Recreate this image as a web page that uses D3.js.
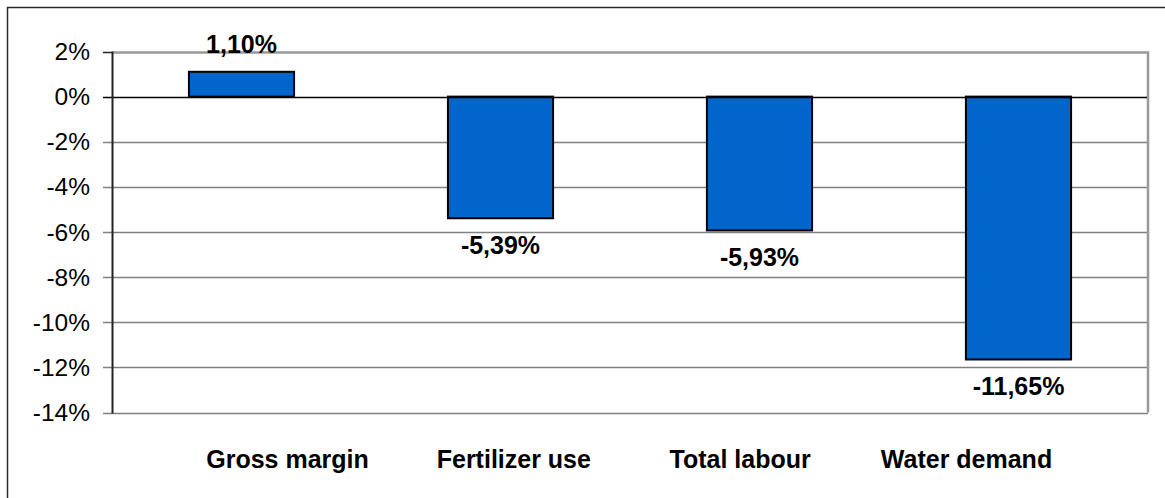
<!DOCTYPE html>
<html>
<head>
<meta charset="utf-8">
<script src="https://cdn.jsdelivr.net/npm/d3@7"></script>
<style>
  html, body { margin: 0; padding: 0; background: #fff; }
  svg { display: block; font-family: "Liberation Sans", Arial, sans-serif; }
</style>
</head>
<body>
<script>
// chart data
const categories = ["Gross margin", "Fertilizer use", "Total labour", "Water demand"];
const values = [1.10, -5.39, -5.93, -11.65];
const tickValues = [2, 0, -2, -4, -6, -8, -10, -12, -14];

const width = 1165, height = 498;
const plot = { left: 112, right: 1148, top: 51.5, bottom: 412.5 };

// comma decimals, plain hyphen for minus
const fmt = v => d3.format(".2f")(v).replace(".", ",").replace("\u2212", "-") + "%";

const svg = d3.select("body").append("svg")
    .attr("width", width)
    .attr("height", height);

// outer frame (runs off the right and bottom edge in the source)
svg.append("rect")
    .attr("x", 7.5).attr("y", 7.5)
    .attr("width", width + 20).attr("height", height + 20)
    .attr("fill", "none")
    .attr("stroke", "#2a2a2a")
    .attr("stroke-width", 1.5);

const x = d3.scaleBand()
    .domain(categories)
    .range([plot.left, plot.right])
    .paddingInner(0.594)
    .paddingOuter(0.297);

const y = d3.scaleLinear()
    .domain([-14, 2])
    .range([plot.bottom, plot.top]);

// category labels sit on their own spacing, a bit off the bar centres
const xLabel = d3.scalePoint()
    .domain(categories)
    .range([287.5, 966.5]);

// gridlines
svg.append("g")
    .selectAll("line")
    .data(tickValues.filter(d => d !== 0 && d !== 2))
    .join("line")
      .attr("x1", plot.left - 9).attr("x2", plot.right)
      .attr("y1", d => Math.round(y(d)) + 0.5)
      .attr("y2", d => Math.round(y(d)) + 0.5)
      .attr("stroke", "#808080")
      .attr("stroke-width", 1.5);

// top / right edge of plot area
svg.append("path")
    .attr("d", `M${plot.left},${Math.round(y(2)) + 0.5}H${plot.right}V${plot.bottom}`)
    .attr("fill", "none")
    .attr("stroke", "#999")
    .attr("stroke-width", 2.5);

// tick at 2%
svg.append("line")
    .attr("x1", plot.left - 9).attr("x2", plot.left)
    .attr("y1", Math.round(y(2)) + 0.5).attr("y2", Math.round(y(2)) + 0.5)
    .attr("stroke", "#222").attr("stroke-width", 1.5);

// bars
svg.append("g")
    .selectAll("rect")
    .data(values)
    .join("rect")
      .attr("x", (d, i) => x(categories[i]))
      .attr("width", x.bandwidth())
      .attr("y", d => y(Math.max(0, d)))
      .attr("height", d => Math.abs(y(d) - y(0)))
      .attr("fill", "#0066cc")
      .attr("stroke", "#000")
      .attr("stroke-width", 2);

// zero line
svg.append("line")
    .attr("x1", plot.left - 9).attr("x2", plot.right - 1)
    .attr("y1", Math.round(y(0)) + 0.5).attr("y2", Math.round(y(0)) + 0.5)
    .attr("stroke", "#000")
    .attr("stroke-width", 1.3);

// y axis line
svg.append("line")
    .attr("x1", plot.left + 0.5).attr("x2", plot.left + 0.5)
    .attr("y1", plot.top).attr("y2", plot.bottom + 1)
    .attr("stroke", "#222")
    .attr("stroke-width", 2);

// y tick labels
svg.append("g")
    .selectAll("text")
    .data(tickValues)
    .join("text")
      .attr("x", 90)
      .attr("y", d => y(d) + 8.5)
      .attr("text-anchor", "end")
      .attr("font-size", 24.5)
      .attr("fill", "#000")
      .text(d => d + "%");

// value labels
svg.append("g")
    .selectAll("text")
    .data(values)
    .join("text")
      .attr("x", (d, i) => x(categories[i]) + x.bandwidth() / 2)
      .attr("y", d => d >= 0 ? y(d) - 19 : y(d) + 35.5)
      .attr("text-anchor", "middle")
      .attr("font-size", 25)
      .attr("font-weight", "bold")
      .text(d => fmt(d));

// category labels
svg.append("g")
    .selectAll("text")
    .data(categories)
    .join("text")
      .attr("x", d => xLabel(d))
      .attr("y", 467.5)
      .attr("text-anchor", "middle")
      .attr("font-size", 25)
      .attr("font-weight", "bold")
      .text(d => d);
</script>
</body>
</html>
